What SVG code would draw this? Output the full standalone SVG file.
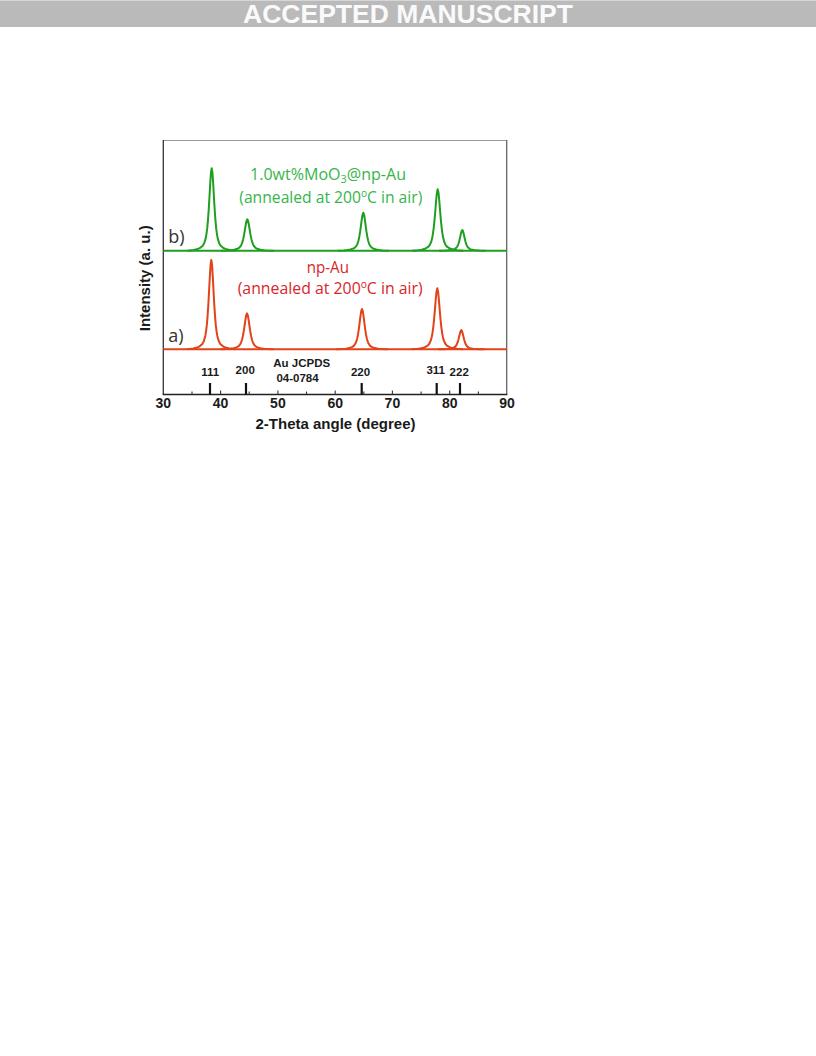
<svg xmlns="http://www.w3.org/2000/svg" xmlns:xlink="http://www.w3.org/1999/xlink" width="816" height="1056" viewBox="0 0 816 1056">
<style>
.ax{font-family:"Liberation Sans",Arial,sans-serif;font-weight:bold;fill:#1a1a1a}
.tk{font-size:14px;text-anchor:middle}
.hk{font-size:11.5px;text-anchor:middle}
.lab{font-family:"Open Sans","Noto Sans",sans-serif;font-size:15.5px}
.g{fill:#35b54a}
.r{fill:#d8262a}
.ab{font-family:"Open Sans","Noto Sans",sans-serif;font-size:18px;fill:#333}
.cg{fill:none;stroke:#1f9f1f;stroke-width:2;stroke-linejoin:round}
.cr{fill:none;stroke:#e2431a;stroke-width:2;stroke-linejoin:round}
</style>
<defs>
<path id="pk" vector-effect="non-scaling-stroke" d="M-8,0 L-6,-0.0082 L-5,-0.0164 L-4,-0.0307 L-3,-0.0605 L-2.5,-0.0907 L-2,-0.1498 L-1.75,-0.2012 L-1.5,-0.2701 L-1.25,-0.3682 L-1,-0.4945 L-0.75,-0.6472 L-0.5,-0.8099 L-0.25,-0.9454 L0,-1 L0.25,-0.9454 L0.5,-0.8099 L0.75,-0.6472 L1,-0.4945 L1.25,-0.3682 L1.5,-0.2701 L1.75,-0.2012 L2,-0.1498 L2.5,-0.0907 L3,-0.0605 L4,-0.0307 L5,-0.0164 L6,-0.0082 L8,0"/>
</defs>
<rect width="816" height="1056" fill="#fff"/>
<g id="banner">
<rect x="0" y="0" width="816" height="27" fill="#bababa"/>
<line x1="0" y1="0.5" x2="816" y2="0.5" stroke="#d6d6d6"/>
<text x="408" y="22.7" text-anchor="middle" font-family="Liberation Sans,Arial,sans-serif" font-weight="bold" font-size="26.5" fill="#fafafa">ACCEPTED MANUSCRIPT</text>
</g>
<g id="frame">
<line x1="163.3" y1="140.5" x2="507" y2="140.5" stroke="#9a9a9a" stroke-width="1.2"/>
<line x1="506.7" y1="140" x2="506.7" y2="394.5" stroke="#666" stroke-width="1.3"/>
<line x1="163.3" y1="140" x2="163.3" y2="394.5" stroke="#333" stroke-width="1.3"/>
<line x1="162.7" y1="394.5" x2="507.3" y2="394.5" stroke="#222" stroke-width="1.4"/>
<g stroke="#333" stroke-width="1.1">
<line x1="220.6" y1="394.5" x2="220.6" y2="390.5"/>
<line x1="277.9" y1="394.5" x2="277.9" y2="390.5"/>
<line x1="335.2" y1="394.5" x2="335.2" y2="390.5"/>
<line x1="392.4" y1="394.5" x2="392.4" y2="390.5"/>
<line x1="449.7" y1="394.5" x2="449.7" y2="390.5"/>
<line x1="192" y1="394.5" x2="192" y2="391.5"/>
<line x1="249.2" y1="394.5" x2="249.2" y2="391.5"/>
<line x1="306.5" y1="394.5" x2="306.5" y2="391.5"/>
<line x1="363.8" y1="394.5" x2="363.8" y2="391.5"/>
<line x1="421.1" y1="394.5" x2="421.1" y2="391.5"/>
<line x1="478.4" y1="394.5" x2="478.4" y2="391.5"/>
</g>
</g>
<g id="x-ticks" class="ax tk">
<text x="163.3" y="407.5">30</text>
<text x="220.6" y="407.5">40</text>
<text x="277.9" y="407.5">50</text>
<text x="335.2" y="407.5">60</text>
<text x="392.4" y="407.5">70</text>
<text x="449.7" y="407.5">80</text>
<text x="507" y="407.5">90</text>
</g>
<text id="x-title" class="ax" x="335.5" y="428.5" font-size="15" text-anchor="middle">2-Theta angle (degree)</text>
<text id="y-title" class="ax" font-size="15" text-anchor="middle" transform="translate(149.5,278.3) rotate(-90)">Intensity (a. u.)</text>
<g id="reference-bars" stroke="#111" stroke-width="2.2">
<line x1="210" y1="383" x2="210" y2="394.5"/>
<line x1="246" y1="383" x2="246" y2="394.5"/>
<line x1="361.7" y1="383" x2="361.7" y2="394.5"/>
<line x1="436.7" y1="383" x2="436.7" y2="394.5"/>
<line x1="460" y1="383" x2="460" y2="394.5"/>
</g>
<g id="reference-labels" class="ax hk">
<text x="210.3" y="375.7">111</text>
<text x="245.2" y="374.3">200</text>
<text x="360.5" y="376">220</text>
<text x="435.7" y="374">311</text>
<text x="459.2" y="375.7">222</text>
<text x="301.7" y="366.7">Au JCPDS</text>
<text x="297.5" y="382">04-0784</text>
</g>
<g id="curve-b" class="cg">
<line x1="163.3" y1="250.7" x2="507" y2="250.7"/>
<use xlink:href="#pk" href="#pk" transform="translate(211.7,250.7) scale(3.0,82.4)"/>
<use xlink:href="#pk" href="#pk" transform="translate(247.3,250.7) scale(3.3,31.4)"/>
<use xlink:href="#pk" href="#pk" transform="translate(363.3,250.7) scale(3.2,38)"/>
<use xlink:href="#pk" href="#pk" transform="translate(437.7,250.7) scale(3.2,61.4)"/>
<use xlink:href="#pk" href="#pk" transform="translate(462.3,250.7) scale(2.9,20.7)"/>
</g>
<g id="curve-a" class="cr">
<line x1="163.3" y1="349.3" x2="507" y2="349.3"/>
<use xlink:href="#pk" href="#pk" transform="translate(211.3,349.3) scale(3.0,89.3)"/>
<use xlink:href="#pk" href="#pk" transform="translate(247,349.3) scale(3.3,36)"/>
<use xlink:href="#pk" href="#pk" transform="translate(362,349.3) scale(3.2,40.3)"/>
<use xlink:href="#pk" href="#pk" transform="translate(437.3,349.3) scale(3.2,61)"/>
<use xlink:href="#pk" href="#pk" transform="translate(461.3,349.3) scale(2.9,19.3)"/>
</g>
<g id="label-b">
<text class="ab" x="168.3" y="242.7">b)</text>
<text class="lab g" x="250" y="179.5" textLength="156" lengthAdjust="spacingAndGlyphs">1.0wt%MoO<tspan font-size="10.5" dy="3">3</tspan><tspan dy="-3">@np-Au</tspan></text>
<text class="lab g" x="239.3" y="202.7" textLength="183" lengthAdjust="spacingAndGlyphs">(annealed at 200<tspan font-size="10" dy="-6">o</tspan><tspan dy="6">C in air)</tspan></text>
</g>
<g id="label-a">
<text class="ab" x="168.3" y="341.7">a)</text>
<text class="lab r" x="306.7" y="273.3" textLength="42.3" lengthAdjust="spacingAndGlyphs">np-Au</text>
<text class="lab r" x="237.7" y="294.3" textLength="185" lengthAdjust="spacingAndGlyphs">(annealed at 200<tspan font-size="10" dy="-6">o</tspan><tspan dy="6">C in air)</tspan></text>
</g>
</svg>
